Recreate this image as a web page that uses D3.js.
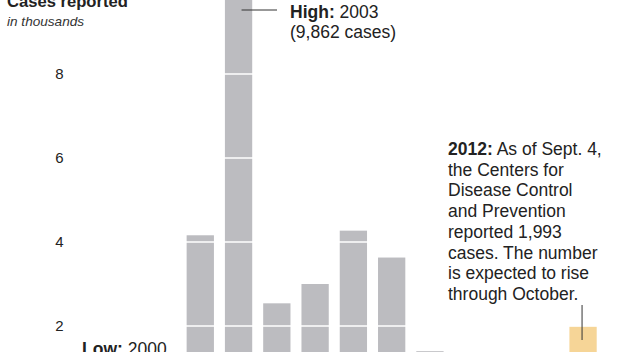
<!DOCTYPE html>
<html>
<head>
<meta charset="utf-8">
<script src="https://cdn.jsdelivr.net/npm/d3@7"></script>
<style>
  body { margin: 0; background: #fff; }
  svg { display: block; font-family: "Liberation Sans", Arial, sans-serif; }
</style>
</head>
<body>
<div id="chart"></div>
<script>
// West Nile virus cases per year, in thousands
const years = [1999, 2000, 2001, 2002, 2003, 2004, 2005, 2006, 2007, 2008, 2009, 2010, 2011, 2012];
const cases = [0.062, 0.021, 0.066, 4.16, 9.862, 2.54, 3.0, 4.27, 3.63, 1.4, 0.72, 1.02, 0.71, 1.993];
const yTicks = [2, 4, 6, 8];

const W = 622, H = 352;
const textColor = "#222";

const svg = d3.select("#chart").append("svg")
  .attr("width", W)
  .attr("height", H);

// Scales - the chart is cropped, baseline sits below the frame
const x = d3.scaleBand()
  .domain(years)
  .range([71.8, 596.7])
  .paddingInner(0.287)
  .paddingOuter(0);

const y = d3.scaleLinear()
  .domain([0, 8])
  .range([410, 74]);

// bars
svg.append("g").selectAll("rect")
  .data(years.map((yr, i) => ({ year: yr, value: cases[i] })))
  .enter().append("rect")
  .attr("x", d => x(d.year))
  .attr("width", x.bandwidth())
  .attr("y", d => y(d.value))
  .attr("height", d => y(0) - y(d.value))
  .attr("fill", d => d.year === 2012 ? "#f6d597" : "#bcbcc0");

// white gridlines cut across the bars
svg.append("g").selectAll("line")
  .data(yTicks)
  .enter().append("line")
  .attr("x1", 70)
  .attr("x2", 600)
  .attr("y1", d => y(d))
  .attr("y2", d => y(d))
  .attr("stroke", "#fff")
  .attr("stroke-width", 1.5);

// y labels
const yAxis = svg.append("g")
  .attr("transform", "translate(63.5,0)")
  .call(d3.axisLeft(y).tickValues(yTicks).tickSize(0).tickPadding(0));
yAxis.select(".domain").remove();
yAxis.selectAll("text")
  .attr("fill", textColor)
  .style("font-size", "15px")
  .style("font-family", "'Liberation Sans', Arial, sans-serif");

// title
svg.append("text")
  .attr("x", 7).attr("y", 6.5)
  .attr("fill", textColor)
  .style("font-size", "16.6px")
  .style("font-weight", "bold")
  .text("Cases reported");

svg.append("text")
  .attr("x", 7).attr("y", 26)
  .attr("fill", "#333")
  .style("font-size", "13.6px")
  .style("font-style", "italic")
  .text("in thousands");

// High annotation
const hi = years.indexOf(2003);
svg.append("line")
  .attr("x1", x(2003) + x.bandwidth() / 2 + 3)
  .attr("x2", 277)
  .attr("y1", 10).attr("y2", 10)
  .attr("stroke", "#333").attr("stroke-width", 1);

const hiText = svg.append("text")
  .attr("x", 290).attr("y", 17.5)
  .attr("fill", textColor)
  .style("font-size", "17.5px");
hiText.append("tspan").style("font-weight", "bold").text("High:");
hiText.append("tspan").text(" " + years[hi]);
svg.append("text")
  .attr("x", 290).attr("y", 38)
  .attr("fill", textColor)
  .style("font-size", "17.5px")
  .text("(" + d3.format(",")(Math.round(cases[hi] * 1000)) + " cases)");

// Low annotation (cut off at the bottom)
const lowText = svg.append("text")
  .attr("x", 82).attr("y", 355)
  .attr("fill", textColor)
  .style("font-size", "17.5px");
lowText.append("tspan").style("font-weight", "bold").text("Low:");
lowText.append("tspan").text(" 2000");

// 2012 annotation
const noteLines = [
  "As of Sept. 4,",
  "the Centers for",
  "Disease Control",
  "and Prevention",
  "reported 1,993",
  "cases. The number",
  "is expected to rise",
  "through October."
];
const note = svg.append("g").attr("fill", textColor).style("font-size", "17.5px");
noteLines.forEach((ln, i) => {
  const t = note.append("text")
    .attr("x", 448)
    .attr("y", 155 + i * 20.7);
  if (i === 0) {
    t.append("tspan").style("font-weight", "bold").text("2012:");
    t.append("tspan").text(" " + ln);
  } else {
    t.text(ln);
  }
});

svg.append("line")
  .attr("x1", x(2012) + x.bandwidth() / 2 - 1)
  .attr("x2", x(2012) + x.bandwidth() / 2 - 1)
  .attr("y1", 305).attr("y2", 340)
  .attr("stroke", "#333").attr("stroke-width", 1);
</script>
</body>
</html>
